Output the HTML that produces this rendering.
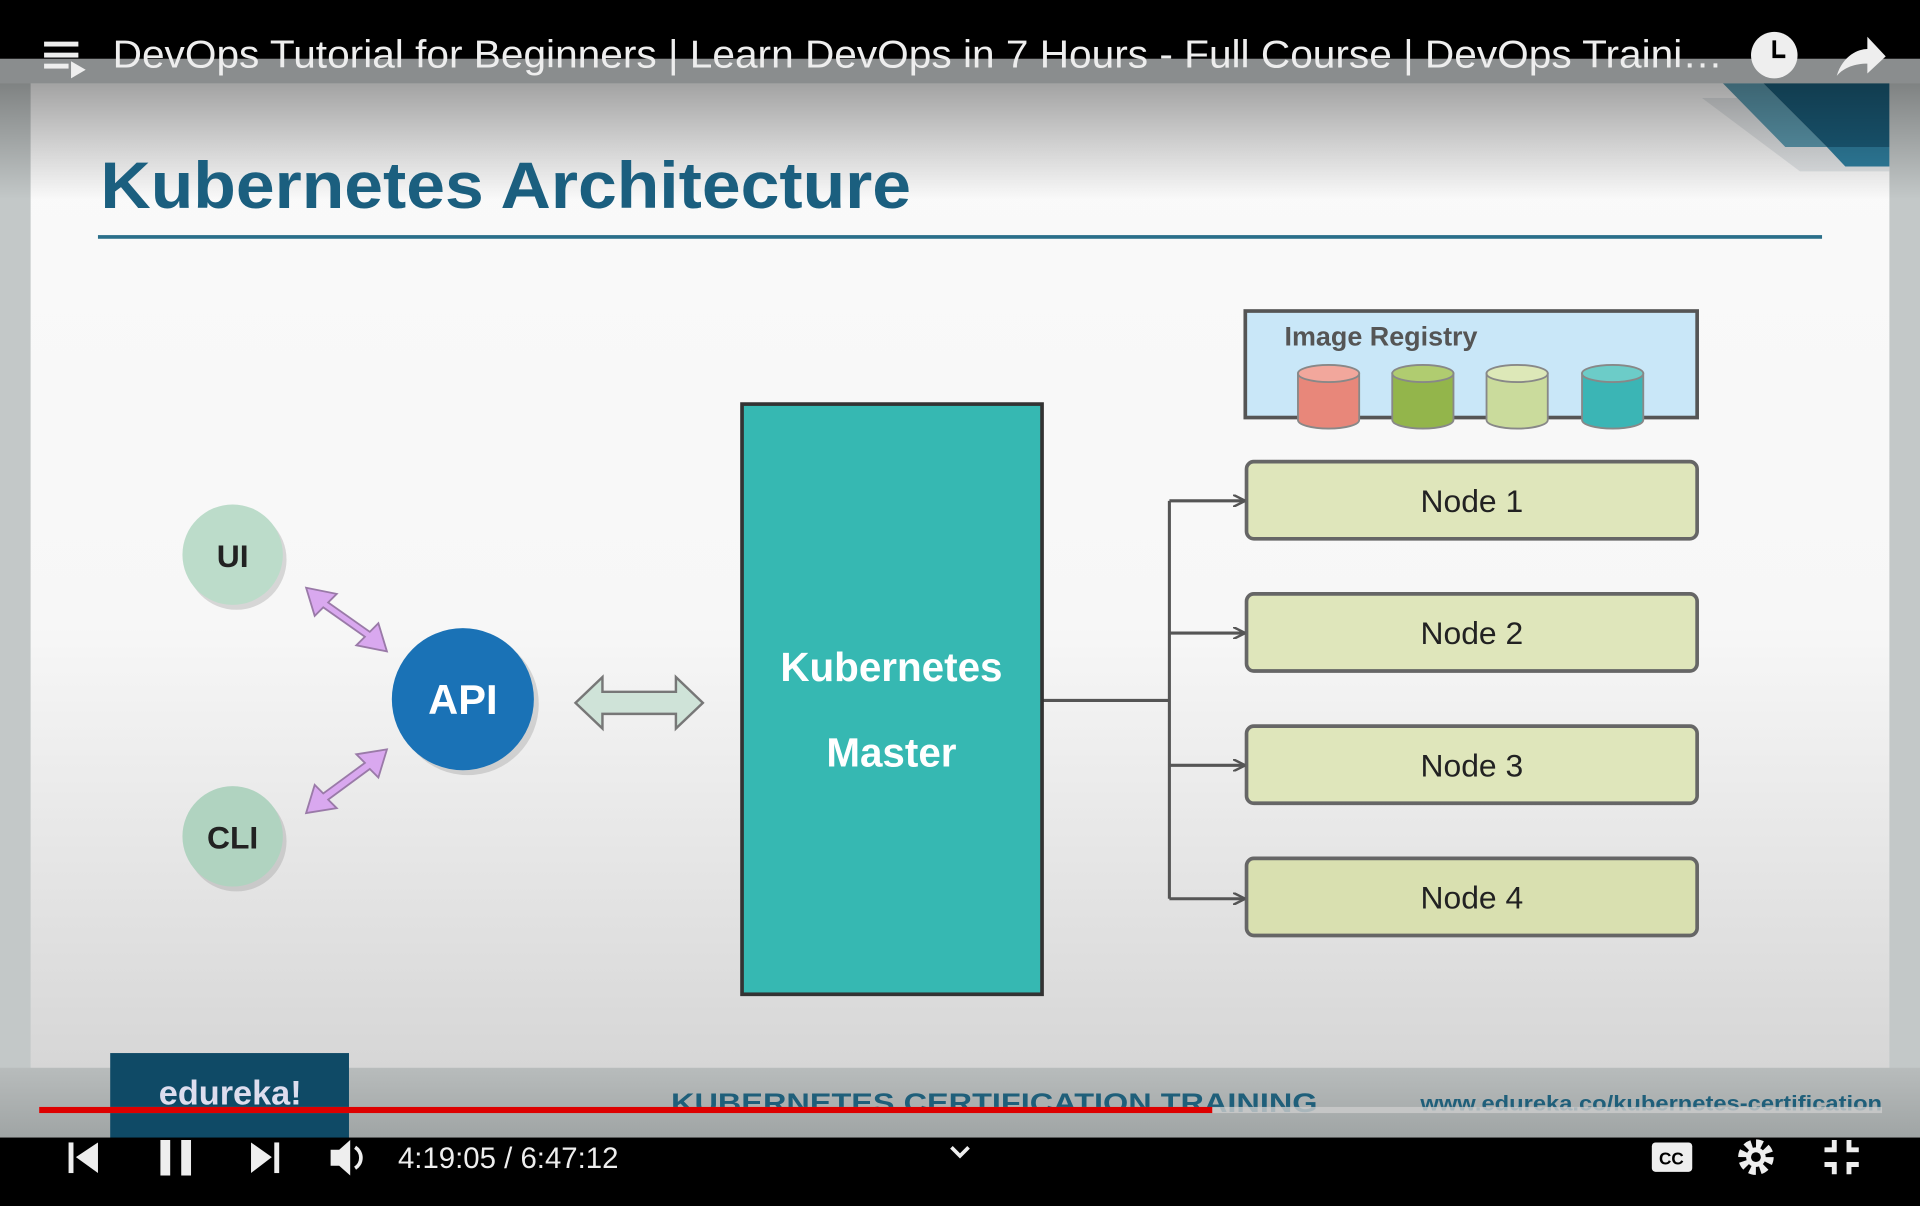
<!DOCTYPE html>
<html><head><meta charset="utf-8"><style>
html,body{margin:0;padding:0;width:1920px;height:1200px;overflow:hidden;background:#000;}
#w{position:absolute;left:0;top:0;width:1568px;height:980px;transform:scale(1.22449);transform-origin:0 0;font-family:"Liberation Sans",sans-serif;}
</style></head><body><div id="w">
<svg width="1568" height="980" viewBox="0 0 1568 980" xmlns="http://www.w3.org/2000/svg" font-family="Liberation Sans, sans-serif">
<defs>
<linearGradient id="tg" x1="0" y1="0" x2="0" y2="1"><stop offset="0" stop-color="#000" stop-opacity=".35"/><stop offset="1" stop-color="#000" stop-opacity="0"/></linearGradient>
<linearGradient id="sl" x1="0" y1="0" x2="0" y2="1"><stop offset="0" stop-color="#fafafa"/><stop offset=".55" stop-color="#f7f7f7"/><stop offset="1" stop-color="#d6d6d6"/></linearGradient>
<linearGradient id="ft" x1="0" y1="0" x2="0" y2="1"><stop offset="0" stop-color="#b8bcbc"/><stop offset="1" stop-color="#9fa4a4"/></linearGradient>
<marker id="ah" markerWidth="10" markerHeight="10" refX="9" refY="5" orient="auto" markerUnits="userSpaceOnUse"><path d="M0,0 L10,5 L0,10" fill="none" stroke="#555" stroke-width="2"/></marker>
</defs>
<rect x="0" y="0" width="1568" height="980" fill="#c3c8c8"/>
<rect x="25" y="68" width="1518" height="806" fill="url(#sl)"/>
<polygon points="1390,80 1543,80 1543,140 1470,140" fill="#d8dde0" opacity=".7"/>
<polygon points="1407,68 1440,68 1492,120 1458,120" fill="#5d9bb0"/>
<polygon points="1440,68 1543,68 1543,120 1492,120" fill="#1b5d7a"/>
<polygon points="1492,120 1543,120 1543,136 1507,136" fill="#2f7f9f"/>
<rect x="0" y="872" width="1568" height="58" fill="url(#ft)"/>
<rect x="0" y="48" width="1568" height="20" fill="#8a8d8e"/>
<rect x="0" y="68" width="1568" height="95" fill="url(#tg)"/>
<rect x="0" y="0" width="1568" height="48" fill="#000"/>
<g fill="#eee"><rect x="36" y="34" width="28" height="4"/><rect x="36" y="43" width="28" height="4"/><rect x="36" y="52" width="20" height="4"/><polygon points="58,50 70,57 58,64"/></g>
<text x="92" y="55" font-size="32" fill="#eee" textLength="1315" lengthAdjust="spacingAndGlyphs">DevOps Tutorial for Beginners | Learn DevOps in 7 Hours - Full Course | DevOps Traini…</text>
<circle cx="1449" cy="45" r="19" fill="#eee"/><path d="M1449,33 V46 H1458" stroke="#000" stroke-width="3" fill="none"/>
<path d="M1500,62 C1505,45 1518,40 1525,40 V30 L1540,46 L1525,60 V52 C1515,52 1506,55 1500,62Z" fill="#eee"/>
<text x="82" y="170" font-size="54" font-weight="bold" fill="#1b5f7f" textLength="662" lengthAdjust="spacingAndGlyphs">Kubernetes Architecture</text>
<rect x="80" y="192" width="1408" height="3" fill="#2a6f8a"/>
<rect x="1017" y="254" width="369" height="87" fill="#c9e7f8" stroke="#555" stroke-width="3"/>
<text x="1049" y="282" font-size="22" font-weight="bold" fill="#555">Image Registry</text>
<g stroke="#888" stroke-width="1.5">
<path d="M1060,305 V343 A25,7 0 0 0 1110,343 V305Z" fill="#e8877a"/><ellipse cx="1085" cy="305" rx="25" ry="7" fill="#f2a79c"/>
<path d="M1137,305 V343 A25,7 0 0 0 1187,343 V305Z" fill="#93b54b"/><ellipse cx="1162" cy="305" rx="25" ry="7" fill="#b0cc70"/>
<path d="M1214,305 V343 A25,7 0 0 0 1264,343 V305Z" fill="#cadb9c"/><ellipse cx="1239" cy="305" rx="25" ry="7" fill="#dde8b8"/>
<path d="M1292,305 V343 A25,7 0 0 0 1342,343 V305Z" fill="#3bb5b5"/><ellipse cx="1317" cy="305" rx="25" ry="7" fill="#6cccc8"/>
</g>
<g font-size="26" fill="#222" text-anchor="middle">
<rect x="1018" y="377" width="368" height="63" rx="6" fill="#dfe6bb" stroke="#666" stroke-width="3"/><text x="1202" y="418">Node 1</text>
<rect x="1018" y="485" width="368" height="63" rx="6" fill="#dfe6bb" stroke="#666" stroke-width="3"/><text x="1202" y="526">Node 2</text>
<rect x="1018" y="593" width="368" height="63" rx="6" fill="#dfe6bb" stroke="#666" stroke-width="3"/><text x="1202" y="634">Node 3</text>
<rect x="1018" y="701" width="368" height="63" rx="6" fill="#d9e0b0" stroke="#666" stroke-width="3"/><text x="1202" y="742">Node 4</text>
</g>
<g stroke="#555" stroke-width="2.5" fill="none">
<path d="M851,572 H955"/><path d="M955,409 V734"/>
<path d="M955,409 H1016" marker-end="url(#ah)"/><path d="M955,517 H1016" marker-end="url(#ah)"/>
<path d="M955,625 H1016" marker-end="url(#ah)"/><path d="M955,734 H1016" marker-end="url(#ah)"/>
</g>
<rect x="606" y="330" width="245" height="482" fill="#36b8b2" stroke="#333" stroke-width="3"/>
<text x="728" y="556" font-size="33" font-weight="bold" fill="#fff" text-anchor="middle">Kubernetes</text>
<text x="728" y="626" font-size="33" font-weight="bold" fill="#fff" text-anchor="middle">Master</text>
<polygon points="470,574 492,553 492,565 552,565 552,553 574,574 552,595 552,583 492,583 492,595" fill="#cfe3d8" stroke="#777" stroke-width="2"/>
<circle cx="193" cy="457" r="41" fill="#999" opacity=".35"/>
<circle cx="190" cy="453" r="41" fill="#bcdcca"/>
<text x="190" y="463" font-size="26" font-weight="bold" fill="#222" text-anchor="middle">UI</text>
<circle cx="193" cy="687" r="41" fill="#999" opacity=".35"/>
<circle cx="190" cy="683" r="41" fill="#b0d3c0"/>
<text x="190" y="693" font-size="26" font-weight="bold" fill="#222" text-anchor="middle">CLI</text>
<circle cx="382" cy="575" r="58" fill="#999" opacity=".35"/>
<circle cx="378" cy="571" r="58" fill="#1a72b6"/>
<text x="378" y="583" font-size="34" font-weight="bold" fill="#fff" text-anchor="middle">API</text>
<g fill="#d9a8ef" stroke="#9a7aa8" stroke-width="1.5">
<polygon points="250,480 275,485 268,492 302,516 309,509 316,532 291,527 298,520 264,496 257,503"/>
<polygon points="250,664 257,641 264,648 298,623 291,616 316,612 309,635 302,628 268,653 275,660"/>
</g>
<rect x="90" y="860" width="195" height="70" fill="#0f4a66"/>
<text x="188" y="902" font-size="28" font-weight="bold" fill="#dde" text-anchor="middle">edureka!</text>
<text x="548" y="908" font-size="22" font-weight="bold" fill="#1f5f7a" textLength="528" lengthAdjust="spacingAndGlyphs">KUBERNETES CERTIFICATION TRAINING</text>
<text x="1160" y="907" font-size="17" font-weight="bold" fill="#1f5f7a" textLength="377" lengthAdjust="spacingAndGlyphs">www.edureka.co/kubernetes-certification</text>
<rect x="32" y="904" width="1505" height="5" fill="#ccc" opacity=".8"/>
<rect x="32" y="904" width="958" height="5" fill="#d00"/>
<rect x="0" y="929" width="1568" height="51" fill="#000"/>
<g fill="#eee">
<rect x="56" y="933" width="4" height="25"/><polygon points="80,933 62,945 80,958"/>
<rect x="131" y="931" width="8" height="29"/><rect x="148" y="931" width="8" height="29"/>
<polygon points="205,933 222,945 205,958"/><rect x="224" y="933" width="4" height="25"/>
<polygon points="270,939 277,939 286,931 286,960 277,952 270,952"/>
<path d="M290,937 A10,10 0 0 1 290,954" stroke="#eee" stroke-width="3" fill="none"/>
</g>
<text x="325" y="954" font-size="24" fill="#eee">4:19:05 / 6:47:12</text>
<path d="M777,937 L784,944 L791,937" stroke="#eee" stroke-width="3" fill="none"/>
<rect x="1349" y="933" width="33" height="24" rx="3" fill="#eee"/><text x="1365" y="951" font-size="14" font-weight="bold" fill="#000" text-anchor="middle">CC</text>
<circle cx="1434" cy="945" r="11" fill="none" stroke="#eee" stroke-width="7" stroke-dasharray="5 3.6"/><circle cx="1434" cy="945" r="8" fill="#eee"/><circle cx="1434" cy="945" r="4" fill="#000"/>
<g stroke="#eee" stroke-width="4" fill="none"><path d="M1490,939 H1498 V931"/><path d="M1510,931 V939 H1518"/><path d="M1490,951 H1498 V959"/><path d="M1510,959 V951 H1518"/></g>
</svg>
</div></body></html>
